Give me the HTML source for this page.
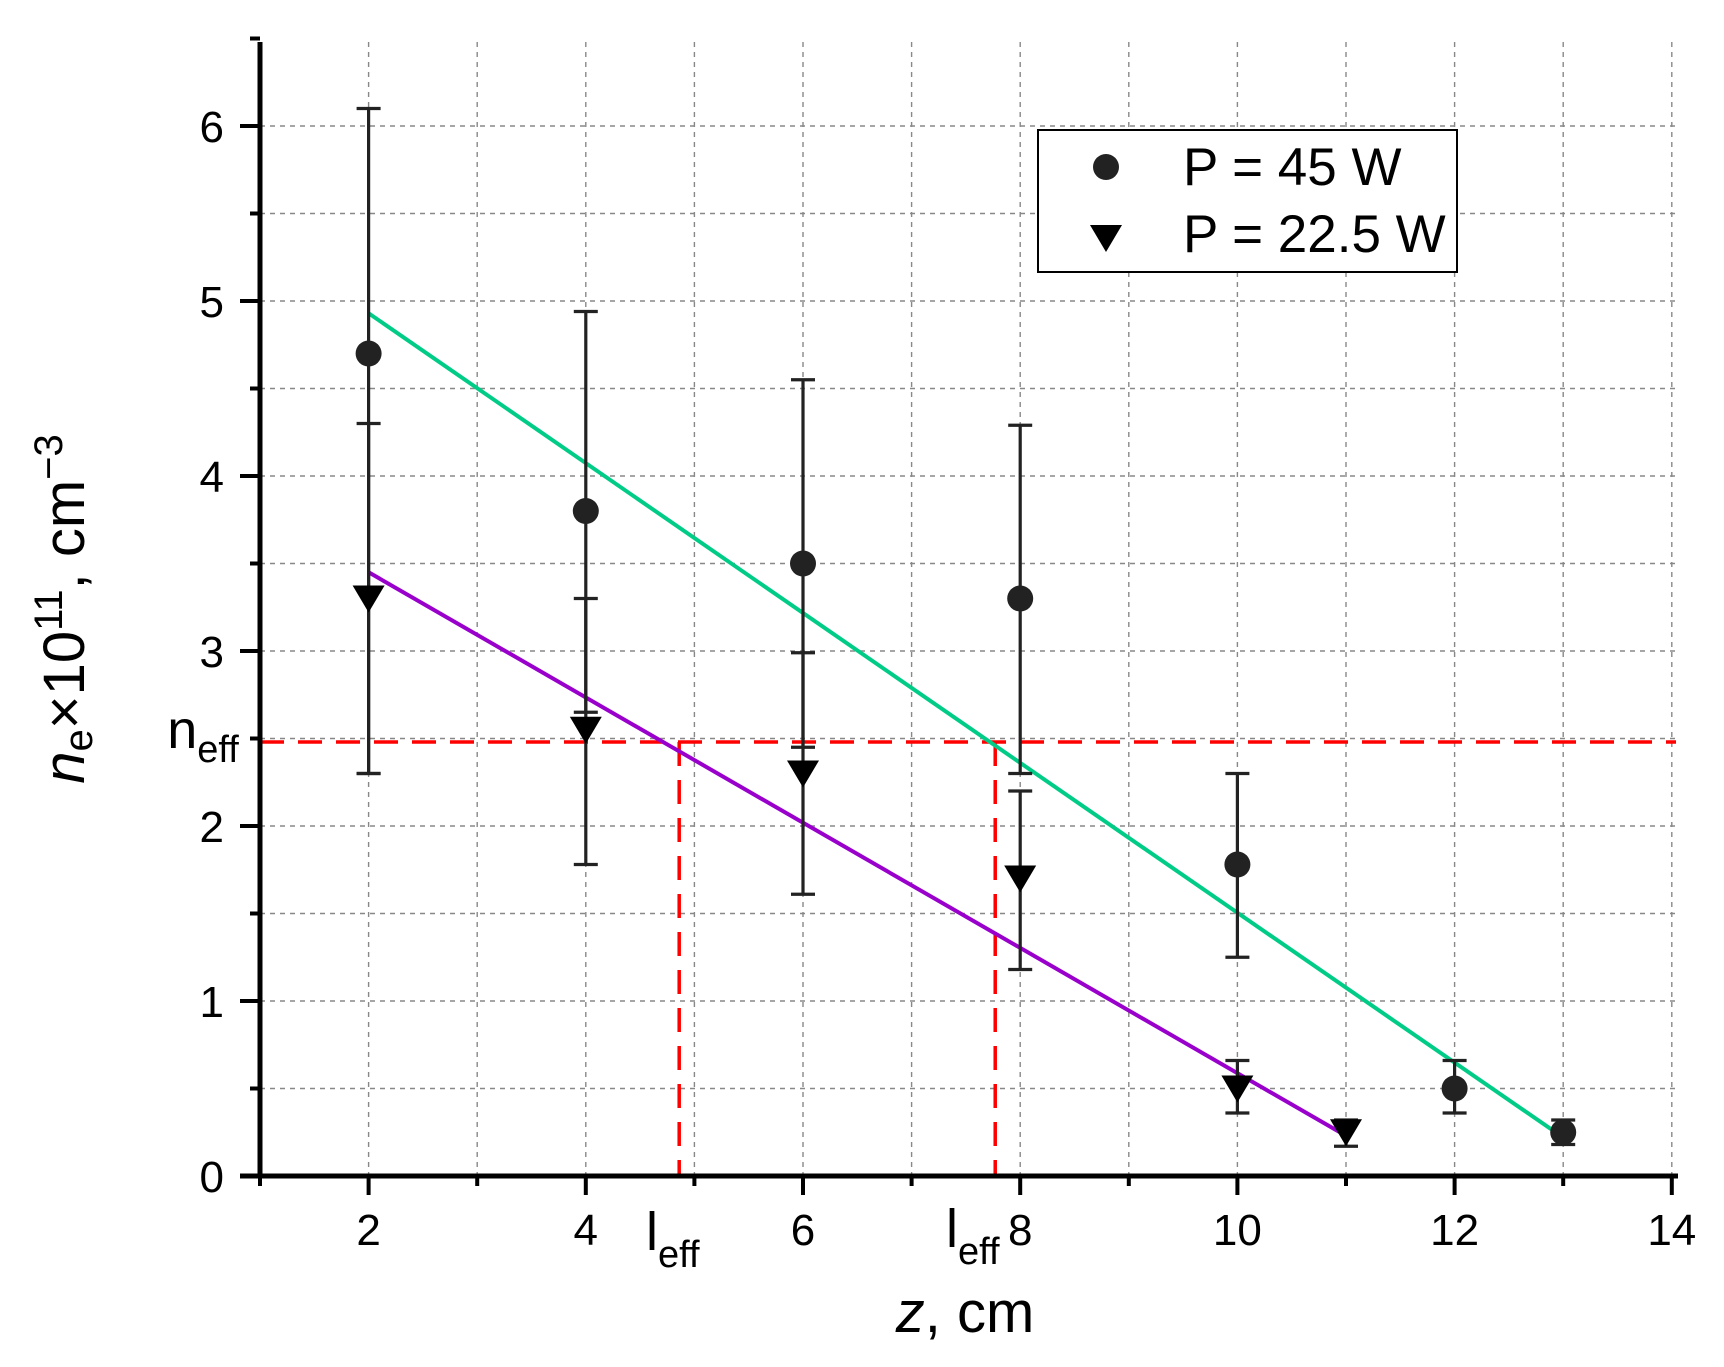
<!DOCTYPE html>
<html><head><meta charset="utf-8"><style>
html,body{margin:0;padding:0;background:#fff;}
svg{display:block;font-family:"Liberation Sans",sans-serif;}
</style></head><body>
<svg id="chart" width="1724" height="1367" viewBox="0 0 1724 1367">
<g id="grid"></g>
<g id="ref"></g>
<g id="fits"></g>
<g id="marks"></g>
<g id="axes"></g>
<g>
<rect x="1038" y="130" width="419" height="142" fill="#fff" stroke="#000" stroke-width="2"/>
<circle cx="1106" cy="167" r="13" fill="#222"/>
<text x="1183" y="185" font-size="53">P = 45 W</text>
<path d="M1090,225 L1122,225 L1106,252 Z" fill="#000"/>
<text x="1183" y="252" font-size="53">P = 22.5 W</text>
</g>
<text x="203" y="748" font-size="54" text-anchor="middle">n<tspan font-size="38" dy="14">eff</tspan></text>
<text x="646" y="1250" font-size="54">l<tspan font-size="38" dy="17">eff</tspan></text>
<text x="946" y="1247" font-size="54">l<tspan font-size="38" dy="17">eff</tspan></text>
<text x="965" y="1332" font-size="58" text-anchor="middle"><tspan font-style="italic">z</tspan>, cm</text>
<text transform="translate(84,609) rotate(-90)" font-size="58" text-anchor="middle"><tspan font-style="italic">n</tspan><tspan font-size="40" dy="8">e</tspan><tspan dy="-8">×10</tspan><tspan font-size="40" dy="-22">11</tspan><tspan dy="22">, cm</tspan><tspan font-size="40" dy="-22">−3</tspan></text>
</svg>
<script>
const xTicks=[2,4,6,8,10,12,14];
const yTicks=[0,1,2,3,4,5,6];
const zA=[2,4,6,8,10,12,13];
const nA=[4.7,3.8,3.5,3.3,1.78,0.5,0.25];
const hiA=[6.1,4.94,4.55,4.29,2.3,0.66,0.32];
const loA=[2.3,2.65,2.45,2.3,1.25,0.36,0.18];
const zB=[2,4,6,8,10,11];
const nB=[3.3,2.55,2.3,1.7,0.5,0.25];
const hiB=[4.3,3.3,2.99,2.2,0.66,0.32];
const loB=[2.3,1.78,1.61,1.18,0.36,0.17];
const fitA=[[2,4.93],[13,0.22]];
const fitB=[[2,3.45],[11,0.23]];
const nEff=2.48;
const lEff=[4.86,7.77];
const NS='http://www.w3.org/2000/svg';
const X=v=>260+(v-1)*108.6;
const Y=v=>1176-v*175;
function mk(p,tag,at){const e=document.createElementNS(NS,tag);for(const k in at)e.setAttribute(k,at[k]);p.appendChild(e);return e;}
const grid=document.getElementById('grid'),axes=document.getElementById('axes'),ref=document.getElementById('ref'),fits=document.getElementById('fits'),marks=document.getElementById('marks');
for(let v=2;v<=14;v++){const l=mk(grid,'line',{x1:X(v),x2:X(v),y1:42,y2:1176,stroke:'#888','stroke-width':1.4,'stroke-dasharray':'5,5'});

}
for(let v=0.5;v<=6.01;v+=0.5){const l=mk(grid,'line',{x1:260,x2:1676,y1:Y(v),y2:Y(v),stroke:'#888','stroke-width':1.4,'stroke-dasharray':'5,5'});

}
let r=mk(ref,'line',{x1:260,x2:1676,y1:Y(nEff),y2:Y(nEff),stroke:'#f00','stroke-width':3.5,'stroke-dasharray':'24,14'});


lEff.forEach(v=>{const l=mk(ref,'line',{x1:X(v),x2:X(v),y1:Y(nEff),y2:1176,stroke:'#f00','stroke-width':3.5,'stroke-dasharray':'24,14'});

});
let f=mk(fits,'line',{x1:X(fitA[0][0]),y1:Y(fitA[0][1]),x2:X(fitA[1][0]),y2:Y(fitA[1][1]),stroke:'#00cc88','stroke-width':4});


f=mk(fits,'line',{x1:X(fitB[0][0]),y1:Y(fitB[0][1]),x2:X(fitB[1][0]),y2:Y(fitB[1][1]),stroke:'#9900cc','stroke-width':4});


function err(z,hi,lo,name){const x=X(z);const g=mk(marks,'g',{stroke:'#222','stroke-width':3.2});


mk(g,'line',{x1:x,x2:x,y1:Y(hi),y2:Y(lo)});mk(g,'line',{x1:x-12,x2:x+12,y1:Y(hi),y2:Y(hi)});mk(g,'line',{x1:x-12,x2:x+12,y1:Y(lo),y2:Y(lo)});}
zA.forEach((z,i)=>err(z,hiA[i],loA[i],'error-bar-45w'));
zB.forEach((z,i)=>err(z,hiB[i],loB[i],'error-bar-22w'));
zA.forEach((z,i)=>{const c=mk(marks,'circle',{cx:X(z),cy:Y(nA[i]),r:13,fill:'#222'});

});
zB.forEach((z,i)=>{const x=X(z),y=Y(nB[i]);const p=mk(marks,'path',{d:`M${x-16},${y-13} L${x+16},${y-13} L${x},${y+14} Z`,fill:'#000'});

});
let a=mk(axes,'line',{x1:260,x2:260,y1:42,y2:1178,stroke:'#000','stroke-width':5});


a=mk(axes,'line',{x1:240,x2:1678,y1:1176,y2:1176,stroke:'#000','stroke-width':5});


for(let v=1;v<=14;v++){const t=mk(axes,'line',{x1:X(v),x2:X(v),y1:1176,y2:v%2===0?1195:1186,stroke:'#000','stroke-width':4});

}
for(let v=0.5;v<=6.5;v+=0.5){const major=Math.abs(v-Math.round(v))<0.01;const t=mk(axes,'line',{x1:major?240:250,x2:260,y1:Y(v),y2:Y(v),stroke:'#000','stroke-width':4});

}
xTicks.forEach(v=>{const t=mk(axes,'text',{x:X(v),y:1245,'font-size':44,'text-anchor':'middle'});t.textContent=v;

});
yTicks.forEach(v=>{const t=mk(axes,'text',{x:224,y:Y(v)+16,'font-size':44,'text-anchor':'end'});t.textContent=v;

});
</script>
</body></html>
